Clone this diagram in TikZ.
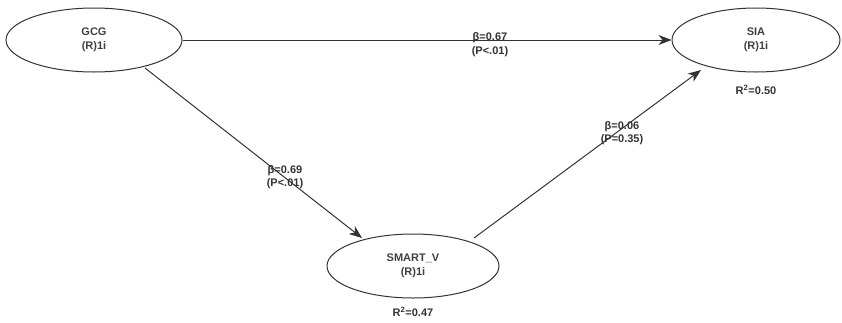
\documentclass[tikz,border=0pt]{standalone}
\usepackage{fontspec}
\setmainfont{Liberation Sans}
\usetikzlibrary{shapes.geometric,arrows.meta}
\begin{document}
\begin{tikzpicture}[x=1pt,y=-1pt,
  lv/.style={ellipse,draw=black!80,line width=1pt,minimum width=176pt,minimum height=64pt,inner sep=0pt,align=center,font=\fontsize{11}{14}\selectfont\bfseries,text=black!75},
  path/.style={draw=black!80,line width=1pt,-{Stealth[length=13pt,width=10pt,inset=4pt]}},
  lab/.style={font=\fontsize{11}{12}\selectfont\bfseries,text=black!80,align=center,inner sep=0pt}]
\useasboundingbox (0,0) rectangle (842,322);
\node[lv] (gcg) at (94,40) {GCG\\(R)1i};
\node[lv,minimum width=168pt] (sia) at (756,40) {SIA\\(R)1i};
\node[lv,minimum width=172pt] (sv) at (413,266) {SMART\_V\\(R)1i};
\node[lab] (r1) at (756,90) {R\textsuperscript{2}=0.50};
\node[lab] (r2) at (413,312) {R\textsuperscript{2}=0.47};
\draw[path] (gcg) -- (sia);
\coordinate (a1) at (145,68);
\coordinate (a2) at (362,238);
\draw[path] (a1) -- (a2);
\coordinate (b1) at (474,238);
\coordinate (b2) at (701,70);
\draw[path] (b1) -- (b2);
\node[lab] (l1) at (490,45) {β=0.67\\[2pt](P<.01)};
\node[lab] (l2) at (285,177) {β=0.69\\[1pt](P<.01)};
\node[lab] (l3) at (622,133) {β=0.06\\[1pt](P=0.35)};
\end{tikzpicture}
\end{document}
